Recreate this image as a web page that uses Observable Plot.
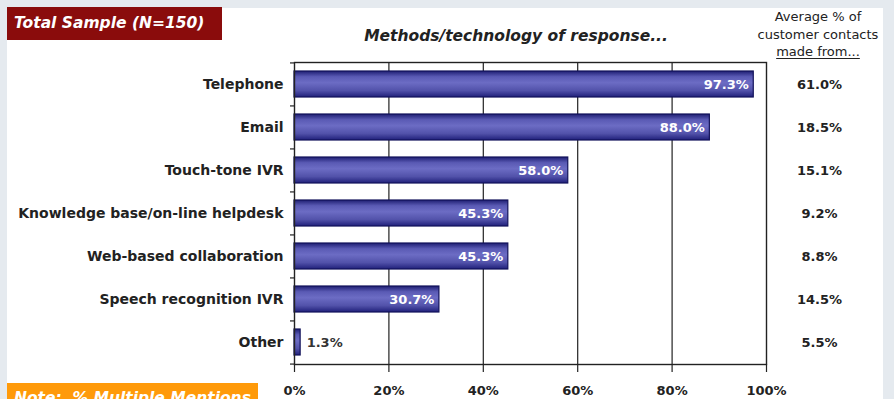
<!DOCTYPE html>
<html>
<head>
<meta charset="utf-8">
<script src="https://cdn.jsdelivr.net/npm/d3@7"></script>
<script src="https://cdn.jsdelivr.net/npm/@observablehq/plot@0.6"></script>
<style>
  html, body { margin: 0; padding: 0; }
  body { width: 894px; height: 399px; overflow: hidden; background: #e5eaef; font-family: "DejaVu Sans", sans-serif; }
  #wrap { position: relative; width: 894px; height: 399px; }
  #panel { position: absolute; left: 7px; top: 8px; width: 876px; height: 400px; background: #fff; }
  #chart { position: absolute; left: 0; top: 0; }
  .title-box { position: absolute; left: 7px; top: 7px; width: 215px; height: 33px; background: #8a0c0c; color: #fff;
    font-weight: bold; font-style: italic; font-size: 15.5px; line-height: 33px; padding-left: 7px; box-sizing: border-box; white-space: nowrap; }
  .note-box { position: absolute; left: 7px; top: 383px; width: 251px; height: 30px; background: #ff9a0a; color: #fff;
    font-weight: bold; font-style: italic; font-size: 15.5px; line-height: 18px; padding-left: 7px; box-sizing: border-box; padding-top: 6px; white-space: nowrap; }
  .chart-head { position: absolute; left: 316px; width: 400px; top: 27px; text-align: center; font-weight: bold; font-style: italic;
    font-size: 15.5px; color: #222; white-space: nowrap; }
  .right-head { position: absolute; left: 748px; width: 140px; top: 8px; text-align: center; font-size: 13px; line-height: 17.5px; color: #222; white-space: nowrap; }
  .right-head u { text-decoration-thickness: 1px; text-underline-offset: 2px; }
</style>
</head>
<body>
<div id="wrap">
  <div id="panel"></div>
  <div id="chart"></div>
  <div class="title-box">Total Sample (N=150)</div>
  <div class="note-box">Note:&nbsp; % Multiple Mentions</div>
  <div class="chart-head">Methods/technology of response...</div>
  <div class="right-head">Average % of<br>customer contacts<br><u>made from...</u></div>
</div>
<script>
const categories = ["Telephone", "Email", "Touch-tone IVR", "Knowledge base/on-line helpdesk", "Web-based collaboration", "Speech recognition IVR", "Other"];
const responsePct = [97.3, 88.0, 58.0, 45.3, 45.3, 30.7, 1.3];
const contactPct = [61.0, 18.5, 15.1, 9.2, 8.8, 14.5, 5.5];
const xTicks = [0, 20, 40, 60, 80, 100];
const gridTicks = [20, 40, 60, 80];

const data = categories.map((c, i) => ({ cat: c, resp: responsePct[i], contact: contactPct[i] }));

const W = 894, H = 399;
const mL = 294, mR = 128, mT = 62, mB = 35;
const step = (H - mT - mB) / categories.length;
const pxPerUnit = (W - mL - mR) / 100;

const plot = Plot.plot({
  width: W,
  height: H,
  marginLeft: mL,
  marginRight: mR,
  marginTop: mT,
  marginBottom: mB,
  style: { fontFamily: "'DejaVu Sans', sans-serif", background: "transparent", overflow: "visible" },
  x: { domain: [0, 100], label: null },
  y: { domain: categories, paddingInner: 0.4, paddingOuter: 0.2, align: 0.5, label: null },
  marks: [
    Plot.ruleX(gridTicks, { stroke: "#222", strokeWidth: 1.2 }),
    Plot.barX(data, { y: "cat", x: "resp", fill: "url(#barGrad)", stroke: "#12125a", strokeWidth: 1.2 }),
    Plot.frame({ stroke: "#222", strokeWidth: 1.4 }),
    Plot.ruleY(categories, { y: d => d, x1: -4 / pxPerUnit, x2: 0, dy: -step / 2, stroke: "#222", strokeWidth: 1.2, clip: false }),
    Plot.ruleY(categories.slice(-1), { y: d => d, x1: -4 / pxPerUnit, x2: 0, dy: step / 2, stroke: "#222", strokeWidth: 1.2, clip: false }),
    Plot.axisX(xTicks, { label: null, tickSize: 8, tickPadding: 13, tickFormat: d => d + "%", fontSize: 13, fontWeight: "bold", fill: "#222", stroke: "#222", strokeWidth: 1.2 }),
    Plot.axisY({ label: null, tickSize: 0, tickPadding: 11, fontSize: 14, fontWeight: "bold", fill: "#222" }),
    Plot.text(data.filter(d => d.resp >= 10), { y: "cat", x: "resp", text: d => d.resp.toFixed(1) + "%", dx: -5, textAnchor: "end", fill: "#fff", fontWeight: "bold", fontSize: 13 }),
    Plot.text(data.filter(d => d.resp < 10), { y: "cat", x: "resp", text: d => d.resp.toFixed(1) + "%", dx: 6, textAnchor: "start", fill: "#333", fontWeight: "bold", fontSize: 13 }),
    Plot.text(data, { y: "cat", x: 100, text: d => d.contact.toFixed(1) + "%", dx: 53, textAnchor: "middle", fill: "#222", fontWeight: "bold", fontSize: 13, clip: false })
  ]
});

const ns = "http://www.w3.org/2000/svg";
const defs = document.createElementNS(ns, "defs");
defs.innerHTML = `<linearGradient id="barGrad" x1="0" y1="0" x2="0" y2="1">
  <stop offset="0" stop-color="#1e1e72"/>
  <stop offset="0.22" stop-color="#5a5ab4"/>
  <stop offset="0.45" stop-color="#6c6cc4"/>
  <stop offset="0.75" stop-color="#5252aa"/>
  <stop offset="1" stop-color="#20207a"/>
</linearGradient>`;
plot.insertBefore(defs, plot.firstChild);
document.getElementById("chart").appendChild(plot);
</script>
</body>
</html>
